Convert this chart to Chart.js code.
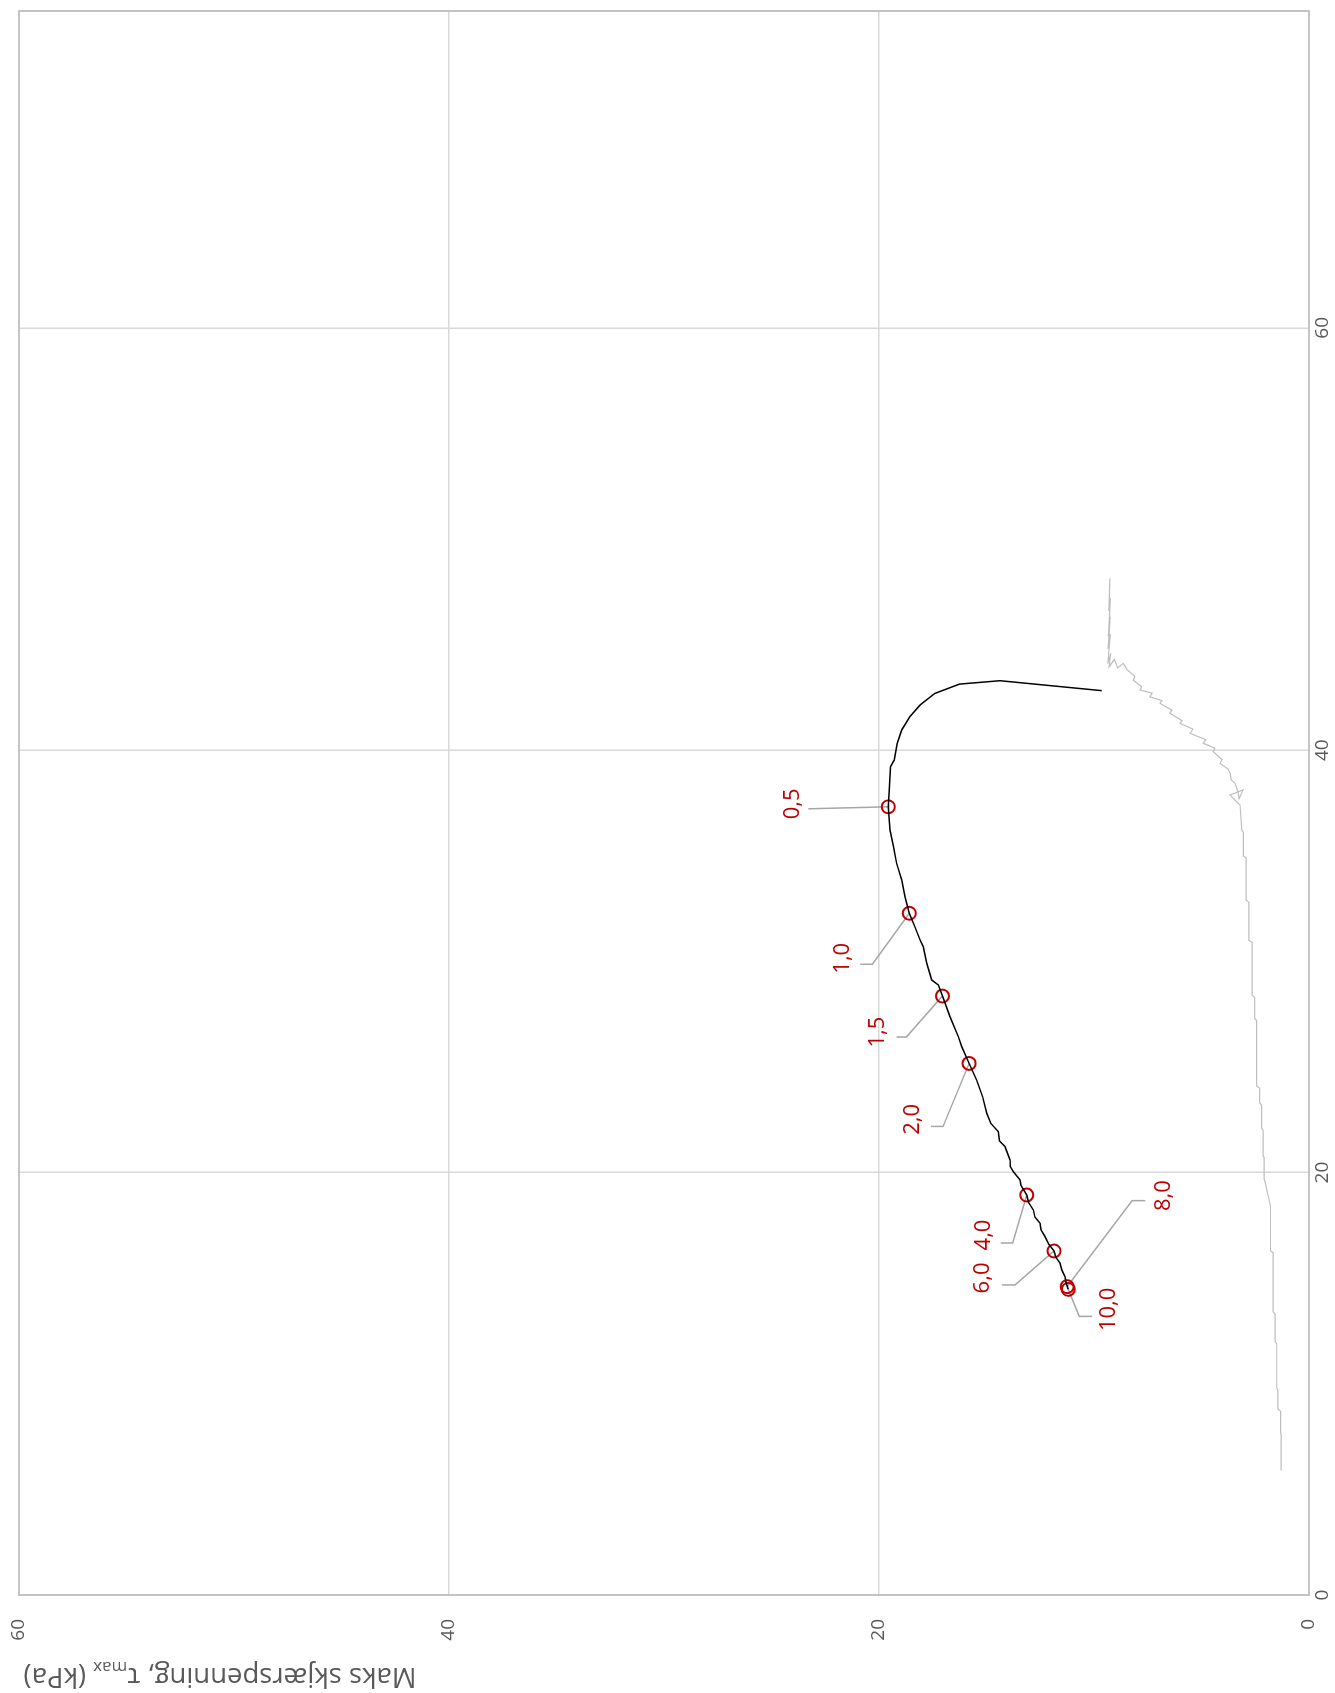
<!DOCTYPE html>
<html>
<head>
<meta charset="utf-8">
<script src="https://cdn.jsdelivr.net/npm/chart.js@4/dist/chart.umd.min.js"></script>
<style>
html,body{margin:0;padding:0;width:1335px;height:1693px;overflow:hidden;background:#fff;}
#wrap{position:absolute;left:0;top:0;width:1693px;height:1335px;transform-origin:0 0;transform:translateY(1693px) rotate(-90deg);}
</style>
</head>
<body>
<div id="wrap"><canvas id="c" width="1693" height="1335"></canvas></div>
<script>
// Axis ticks
const xTicks = [0, 20, 40, 60];
const yTicks = [0, 20, 40, 60];
const yTitleMain = "Maks skjærspenning, τ";
const yTitleSub = "max";
const yTitleEnd = " (kPa)";

// Grey path (x value, τmax)
const greyX = [5.9, 7.6, 7.7, 8.7, 8.8, 9.7, 9.8, 11.9, 12.0, 13.3, 13.4, 16.2, 16.3, 18.4, 19.6, 19.7, 20.7, 20.8, 22.0, 22.1, 23.2, 23.3, 24.0, 24.1, 27.2, 27.3, 28.3, 28.4, 30.9, 31.0, 32.8, 32.9, 34.9, 35.0, 36.1, 36.2, 37.4,
  37.88, 38.12, 37.7, 38.0, 38.43, 38.6, 38.91, 39.1, 39.38, 39.55, 39.93, 40.1, 40.33, 40.5, 40.8, 41.0, 41.27, 41.4, 41.75, 41.9, 42.22, 42.35, 42.53, 42.7, 42.85, 43.0, 43.32, 43.5, 43.8, 44.11, 43.9, 44.3, 43.95,
  44.6, 44.1, 45.5, 44.8, 46.3, 45.4, 47.2, 46.6, 48.14];
const greyT = [1.30, 1.30, 1.32, 1.32, 1.45, 1.45, 1.50, 1.50, 1.58, 1.58, 1.67, 1.67, 1.79, 1.79, 2.05, 2.09, 2.09, 2.13, 2.13, 2.20, 2.20, 2.30, 2.30, 2.44, 2.44, 2.53, 2.53, 2.65, 2.65, 2.80, 2.80, 2.92, 2.92, 3.05, 3.05, 3.12, 3.21,
  3.67, 3.06, 3.25, 3.30, 3.44, 3.62, 3.67, 3.75, 4.14, 4.05, 4.45, 4.38, 4.92, 4.80, 5.53, 5.40, 6.00, 5.90, 6.47, 6.38, 6.93, 6.85, 7.40, 7.30, 7.86, 7.78, 8.17, 8.10, 8.45, 8.64, 8.90, 9.05, 9.30,
  9.22, 9.36, 9.24, 9.34, 9.25, 9.33, 9.24, 9.31, 9.26];

// Black stress path (x value, τmax)
const blackX = [42.82, 43.29, 43.13, 42.69, 42.14, 41.59, 40.96, 40.33, 39.54, 39.22, 38.11, 37.32, 36.22, 35.43, 34.64, 33.85, 33.06, 32.28, 31.64, 31.01, 30.70, 29.91, 29.12, 28.88, 28.36, 27.38, 26.43, 25.96, 25.17, 24.38, 23.59, 22.81, 22.33, 21.94, 21.5, 21.23, 20.60, 20.3, 20.04, 19.65, 19.4, 18.94, 18.6, 18.23, 17.9, 17.60, 17.3, 16.97, 16.6, 16.29, 16.0, 15.71, 15.4, 15.07, 14.8, 14.47];
const blackT = [9.64, 14.37, 16.26, 17.40, 18.09, 18.56, 18.94, 19.15, 19.29, 19.46, 19.52, 19.57, 19.49, 19.33, 19.18, 18.94, 18.79, 18.59, 18.33, 18.09, 17.94, 17.78, 17.55, 17.24, 17.05, 16.70, 16.31, 16.15, 15.81, 15.46, 15.18, 14.99, 14.80, 14.45, 14.40, 14.14, 13.91, 13.90, 13.75, 13.44, 13.40, 13.13, 13.05, 12.82, 12.75, 12.51, 12.47, 12.28, 12.10, 11.86, 11.78, 11.58, 11.50, 11.35, 11.30, 11.20];

// Strain level markers
const markLabels = ["0,5", "1,0", "1,5", "2,0", "4,0", "6,0", "8,0", "10,0"];
const markX = [37.32, 32.28, 28.36, 25.17, 18.94, 16.29, 14.60, 14.47];
const markT = [19.57, 18.59, 17.05, 15.81, 13.13, 11.86, 11.25, 11.20];

const toPts = (xs, ys) => xs.map((v, i) => ({x: v, y: ys[i]}));

// label leader geometry (pixel offsets from the marker: elbow, end, text centre)
const leaderStyle = [
  {e:[-2,-80], n:[-2,-80], t:[3,-96]},
  {e:[-51,-37], n:[-51,-49], t:[-45,-67]},
  {e:[-41,-36], n:[-41,-46], t:[-36,-65]},
  {e:[-63,-26], n:[-63,-38], t:[-56,-56]},
  {e:[-48,-14], n:[-48,-26], t:[-40,-43]},
  {e:[-34,-39], n:[-34,-52], t:[-27,-71]},
  {e:[86,65], n:[86,78], t:[91,97]},
  {e:[-27,11], n:[-27,24], t:[-20,41]}
];

const FONT = "'Open Sans', 'Noto Sans', sans-serif";

const framePlugin = {
  id: 'frame',
  beforeDatasetsDraw(chart) {
    const {ctx, chartArea: a} = chart;
    ctx.save();
    ctx.strokeStyle = '#c4c4c4';
    ctx.lineWidth = 2;
    ctx.strokeRect(a.left, a.top, a.right - a.left, a.bottom - a.top);
    const xs = chart.scales.x, ys = chart.scales.y;
    ctx.strokeStyle = '#a6a6a6';
    ctx.lineWidth = 1.5;
    markX.forEach((v, i) => {
      const px = xs.getPixelForValue(v), py = ys.getPixelForValue(markT[i]);
      const s = leaderStyle[i];
      ctx.beginPath();
      ctx.moveTo(px, py);
      ctx.lineTo(px + s.e[0], py + s.e[1]);
      ctx.lineTo(px + s.n[0], py + s.n[1]);
      ctx.stroke();
    });
    ctx.restore();
  },
  afterDraw(chart) {
    const {ctx, chartArea: a} = chart;
    const xs = chart.scales.x, ys = chart.scales.y;
    ctx.save();
    // x tick labels
    ctx.fillStyle = '#595959';
    ctx.font = '19px ' + FONT;
    ctx.textAlign = 'center';
    ctx.textBaseline = 'top';
    xTicks.forEach(v => ctx.fillText(String(v), xs.getPixelForValue(v), a.bottom + 4));
    // point labels
    ctx.fillStyle = '#c00000';
    ctx.font = '22px ' + FONT;
    ctx.textAlign = 'center';
    ctx.textBaseline = 'middle';
    markX.forEach((v, i) => {
      const px = xs.getPixelForValue(v), py = ys.getPixelForValue(markT[i]);
      const s = leaderStyle[i];
      ctx.fillText(markLabels[i], px + s.t[0], py + s.t[1]);
    });
    // y axis title with subscript
    const big = 27.5, small = 17;
    ctx.fillStyle = '#595959';
    ctx.textAlign = 'left';
    ctx.textBaseline = 'alphabetic';
    ctx.font = big + 'px ' + FONT;
    const w1 = ctx.measureText(yTitleMain).width;
    const w3 = ctx.measureText(yTitleEnd).width;
    ctx.font = small + 'px ' + FONT;
    const w2 = ctx.measureText(yTitleSub).width;
    const total = w1 + w2 + w3;
    ctx.translate(25, 220);
    ctx.rotate(-Math.PI / 2);
    let x0 = -total / 2;
    ctx.font = big + 'px ' + FONT;
    ctx.fillText(yTitleMain, x0, 0);
    ctx.font = small + 'px ' + FONT;
    ctx.fillText(yTitleSub, x0 + w1, 6);
    ctx.font = big + 'px ' + FONT;
    ctx.fillText(yTitleEnd, x0 + w1 + w2, 0);
    ctx.restore();
  }
};

new Chart(document.getElementById('c'), {
  type: 'scatter',
  data: {
    datasets: [
      {data: toPts(greyX, greyT), showLine: true, borderColor: '#bfbfbf', borderWidth: 1.2, pointRadius: 0, fill: false},
      {data: toPts(blackX, blackT), showLine: true, borderColor: '#000000', borderWidth: 1.5, pointRadius: 0, fill: false},
      {data: toPts(markX, markT), showLine: false, pointRadius: 6.5, pointBorderWidth: 2, borderColor: '#c00000', backgroundColor: 'rgba(0,0,0,0)', pointStyle: 'circle'}
    ]
  },
  options: {
    responsive: false,
    devicePixelRatio: 1,
    animation: false,
    layout: {padding: {top: 19, right: 11, bottom: 0, left: 0}},
    plugins: {legend: {display: false}, tooltip: {enabled: false}},
    scales: {
      x: {
        type: 'linear', min: 0, max: 75,
        afterBuildTicks: s => { s.ticks = xTicks.map(v => ({value: v})); },
        afterFit: s => { s.height = 26; s.paddingLeft = 0; s.paddingRight = 0; },
        grid: {color: '#d9d9d9', lineWidth: 1.5, drawTicks: false},
        border: {display: false},
        ticks: {display: false}
      },
      y: {
        type: 'linear', min: 0, max: 60,
        afterBuildTicks: s => { s.ticks = yTicks.map(v => ({value: v})); },
        afterFit: s => { s.width = 98; s.paddingTop = 0; s.paddingBottom = 0; },
        grid: {color: '#d9d9d9', lineWidth: 1.5, drawTicks: false},
        border: {display: false},
        ticks: {color: '#595959', font: {size: 19, family: FONT}, padding: 24}
      }
    }
  },
  plugins: [framePlugin]
});
</script>
</body>
</html>
